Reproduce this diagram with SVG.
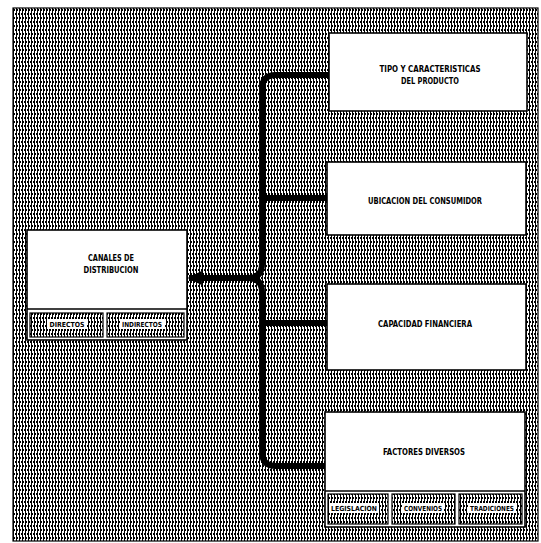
<svg xmlns="http://www.w3.org/2000/svg" width="541" height="543" viewBox="0 0 541 543">
  <style>
    .box { fill: #ffffff; stroke: #000000; stroke-width: 1.6; }
    .cell { fill: url(#hatch); stroke: #000000; stroke-width: 1.2; }
    .lbl { font-family: "Liberation Sans Narrow", "DejaVu Sans Condensed", "Liberation Sans", sans-serif; font-weight: bold; font-size: 8px; fill: #000000; text-anchor: middle; }
    .sub { font-family: "Liberation Sans Narrow", "DejaVu Sans Condensed", "Liberation Sans", sans-serif; font-weight: bold; font-size: 7px; fill: #000000; text-anchor: middle; }
    .tag { fill: #ffffff; }
    .wire { fill: none; stroke: #000000; stroke-width: 6; stroke-linecap: butt; stroke-linejoin: round; }
  </style>
  <defs>
    <!-- wavy vertical ruling used as the background texture -->
    <pattern id="hatch" patternUnits="userSpaceOnUse" width="3" height="8">
      <rect width="3" height="8" fill="#ffffff"/>
      <path d="M1.5,0 Q2.7,2 1.5,4 Q0.3,6 1.5,8" fill="none" stroke="#000000" stroke-width="1.3" shape-rendering="crispEdges"/>
    </pattern>
    <marker id="arrow" viewBox="0 0 10 10" refX="9" refY="5" markerWidth="2.4" markerHeight="2.4" orient="auto" markerUnits="strokeWidth">
      <path d="M0,0 L10,5 L0,10 Z" fill="#000000"/>
    </marker>
  </defs>

  <!-- textured panel -->
  <rect x="13" y="8" width="525" height="533" fill="url(#hatch)" stroke="#000000" stroke-width="1.2"/>

  <!-- connectors -->
  <g id="connectors">
    <path class="wire" d="M329,75 H276 Q262,75 262,89 V264 Q262,278 248,278"/>
    <path class="wire" d="M325,466 H276 Q262,466 262,452 V292 Q262,278 248,278"/>
    <path class="wire" d="M262,198 H327"/>
    <path class="wire" d="M262,323 H327"/>
    <path class="wire" d="M250,278 H189" marker-end="url(#arrow)"/>
  </g>

  <g id="tipo">
    <rect class="box" x="329" y="33" width="198" height="78"/>
    <text class="lbl" x="430" y="72" textLength="101" lengthAdjust="spacingAndGlyphs">TIPO Y CARACTERISTICAS</text>
    <text class="lbl" x="430" y="84" textLength="58" lengthAdjust="spacingAndGlyphs">DEL PRODUCTO</text>
  </g>

  <g id="ubicacion">
    <rect class="box" x="327" y="162" width="199" height="73"/>
    <text class="lbl" x="425" y="204" textLength="114" lengthAdjust="spacingAndGlyphs">UBICACION DEL CONSUMIDOR</text>
  </g>

  <g id="capacidad">
    <rect class="box" x="327" y="284" width="199" height="86"/>
    <text class="lbl" x="425" y="327" textLength="94" lengthAdjust="spacingAndGlyphs">CAPACIDAD FINANCIERA</text>
  </g>

  <g id="factores">
    <rect class="box" x="325" y="412" width="200" height="115"/>
    <line x1="325" y1="491" x2="525" y2="491" stroke="#000000" stroke-width="1.4"/>
    <text class="lbl" x="424" y="455" textLength="82" lengthAdjust="spacingAndGlyphs">FACTORES DIVERSOS</text>
    <rect class="cell" x="328" y="494" width="60" height="30"/>
    <rect class="cell" x="392" y="494" width="63" height="30"/>
    <rect class="cell" x="459" y="494" width="63" height="30"/>
    <rect class="tag" x="329" y="503" width="50" height="10"/>
    <rect class="tag" x="402" y="503" width="42" height="10"/>
    <rect class="tag" x="468" y="503" width="48" height="10"/>
    <text class="sub" x="354" y="511" textLength="46" lengthAdjust="spacingAndGlyphs">LEGISLACION</text>
    <text class="sub" x="423" y="511" textLength="38" lengthAdjust="spacingAndGlyphs">CONVENIOS</text>
    <text class="sub" x="492" y="511" textLength="44" lengthAdjust="spacingAndGlyphs">TRADICIONES</text>
  </g>

  <g id="canales">
    <rect class="box" x="27" y="230" width="160" height="110"/>
    <line x1="27" y1="309" x2="187" y2="309" stroke="#000000" stroke-width="1.4"/>
    <text class="lbl" x="111" y="261" textLength="46" lengthAdjust="spacingAndGlyphs">CANALES DE</text>
    <text class="lbl" x="111" y="273" textLength="55" lengthAdjust="spacingAndGlyphs">DISTRIBUCION</text>
    <rect class="cell" x="30" y="313" width="73" height="24"/>
    <rect class="cell" x="107" y="313" width="77" height="24"/>
    <rect class="tag" x="47" y="319" width="40" height="10"/>
    <rect class="tag" x="120" y="319" width="45" height="10"/>
    <text class="sub" x="67" y="327" textLength="35" lengthAdjust="spacingAndGlyphs">DIRECTOS</text>
    <text class="sub" x="142" y="327" textLength="40" lengthAdjust="spacingAndGlyphs">INDIRECTOS</text>
  </g>
</svg>
